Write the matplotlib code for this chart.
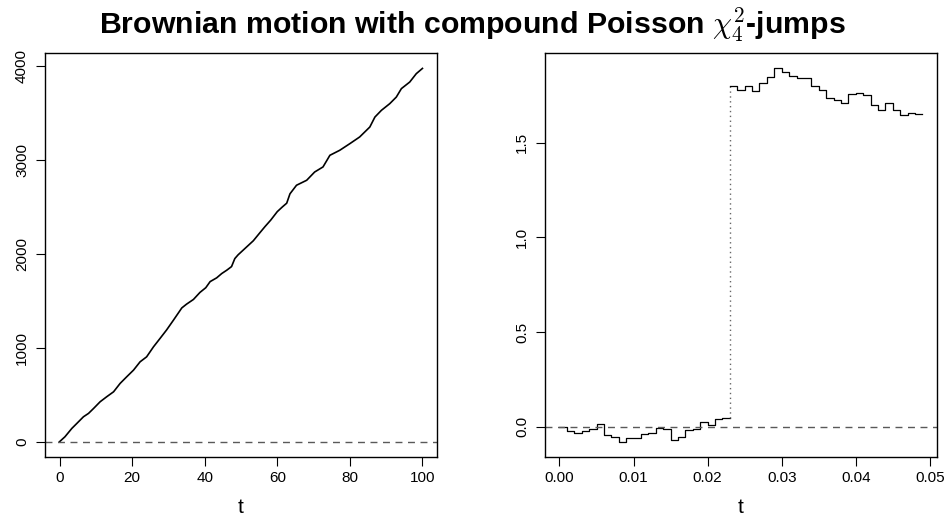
"""Brownian motion with compound Poisson chi^2_4 jumps: full path and a zoom
on the first 0.05 time units."""
import matplotlib

matplotlib.use("Agg")
import matplotlib.pyplot as plt
import numpy as np

# left panel: path
path_t = [0, 1.5, 3.4, 4.8, 6.6, 8.0, 9.4, 11.2, 13.0, 14.9, 16.7, 18.5, 20.4,
          22.2, 24.0, 25.9, 27.7, 29.5, 31.4, 33.7, 35.0, 36.9, 38.7, 40.3,
          41.5, 43.3, 44.7, 46.1, 47.4, 48.3, 49.2, 50.6, 52.0, 53.4, 55.2,
          56.6, 58.2, 60.0, 61.4, 62.6, 63.5, 65.3, 68.1, 70.3, 72.6, 74.5,
          77.2, 80.0, 82.7, 85.5, 86.9, 88.7, 91.0, 92.8, 94.2, 96.5, 98.3, 100]
path_x = [0, 53, 142, 196, 266, 302, 355, 426, 479, 532, 621, 691, 763, 851,
          904, 1011, 1100, 1190, 1295, 1425, 1465, 1515, 1590, 1640, 1705,
          1745, 1791, 1827, 1865, 1950, 1990, 2040, 2090, 2140, 2225, 2290,
          2360, 2450, 2500, 2540, 2640, 2731, 2784, 2872, 2926, 3050, 3103,
          3174, 3245, 3351, 3457, 3529, 3600, 3670, 3760, 3830, 3919, 3975]

# right panel: first 50 grid points, dt = 0.001
zoom_dt = 0.001
zoom_x = [0.0, -0.021, -0.035, -0.023, -0.014, 0.012, -0.044, -0.053, -0.079,
          -0.058, -0.057, -0.040, -0.035, -0.005, -0.011, -0.070, -0.053,
          -0.018, -0.014, 0.026, 0.007, 0.039, 0.044,
          1.798, 1.777, 1.801, 1.771, 1.816, 1.847, 1.895, 1.874, 1.851,
          1.842, 1.842, 1.801, 1.777, 1.736, 1.724, 1.710, 1.759, 1.763,
          1.750, 1.701, 1.675, 1.710, 1.675, 1.648, 1.657, 1.653, 1.653]
jump_idx = 23

plt.rcParams.update({
    "font.family": ["Liberation Sans", "DejaVu Sans"],
    "mathtext.fontset": "cm",
    "font.size": 11,
    "axes.linewidth": 1.0,
    "xtick.major.size": 6.5,
    "ytick.major.size": 6.5,
    "xtick.major.pad": 4,
    "ytick.major.pad": 5,
})

fig = plt.figure(figsize=(9.45, 5.29), dpi=100)
ax1 = fig.add_axes([0.0476, 0.1367, 0.4148, 0.7631])
ax2 = fig.add_axes([0.5767, 0.1367, 0.4148, 0.7631])

zero_kw = dict(color="0.35", lw=1.0, linestyle=(0, (5, 4)))

# full path
ax1.plot(path_t, path_x, color="black", lw=1.2)
ax1.axhline(0, **zero_kw)
ax1.set_xlim(-4, 104)
ax1.set_ylim(-159, 4139)
ax1.set_xticks([0, 20, 40, 60, 80, 100])
ax1.set_yticks([0, 1000, 2000, 3000, 4000])
ax1.set_xlabel("t", fontsize=15, labelpad=9)

# zoom: steps before and after the jump, jump itself dotted
t = np.arange(len(zoom_x)) * zoom_dt
v = np.array(zoom_x)
j = jump_idx
ax2.step(t[:j + 1], np.r_[v[:j], v[j - 1]], where="post", color="black", lw=0.9)
ax2.plot([t[j], t[j]], [v[j - 1], v[j]], color="0.4", lw=1.0, linestyle=(0, (1, 2.5)))
ax2.step(t[j:], v[j:], where="post", color="black", lw=0.9)
ax2.axhline(0, **zero_kw)
ax2.set_xlim(-0.00196, 0.05096)
ax2.set_ylim(-0.158, 1.974)
ax2.set_xticks([0, 0.01, 0.02, 0.03, 0.04, 0.05])
ax2.set_xticklabels(["0.00", "0.01", "0.02", "0.03", "0.04", "0.05"])
ax2.set_yticks([0, 0.5, 1.0, 1.5])
ax2.set_yticklabels(["0.0", "0.5", "1.0", "1.5"])
ax2.set_xlabel("t", fontsize=15, labelpad=9)

for ax in (ax1, ax2):
    for lab in ax.get_yticklabels():
        lab.set_rotation(90)
        lab.set_va("center")

fig.suptitle(r"Brownian motion with compound Poisson $\chi^2_4$-jumps",
             x=0.5, y=0.99, fontsize=21.8, fontweight="bold")

fig.savefig("out.png", dpi=100)
